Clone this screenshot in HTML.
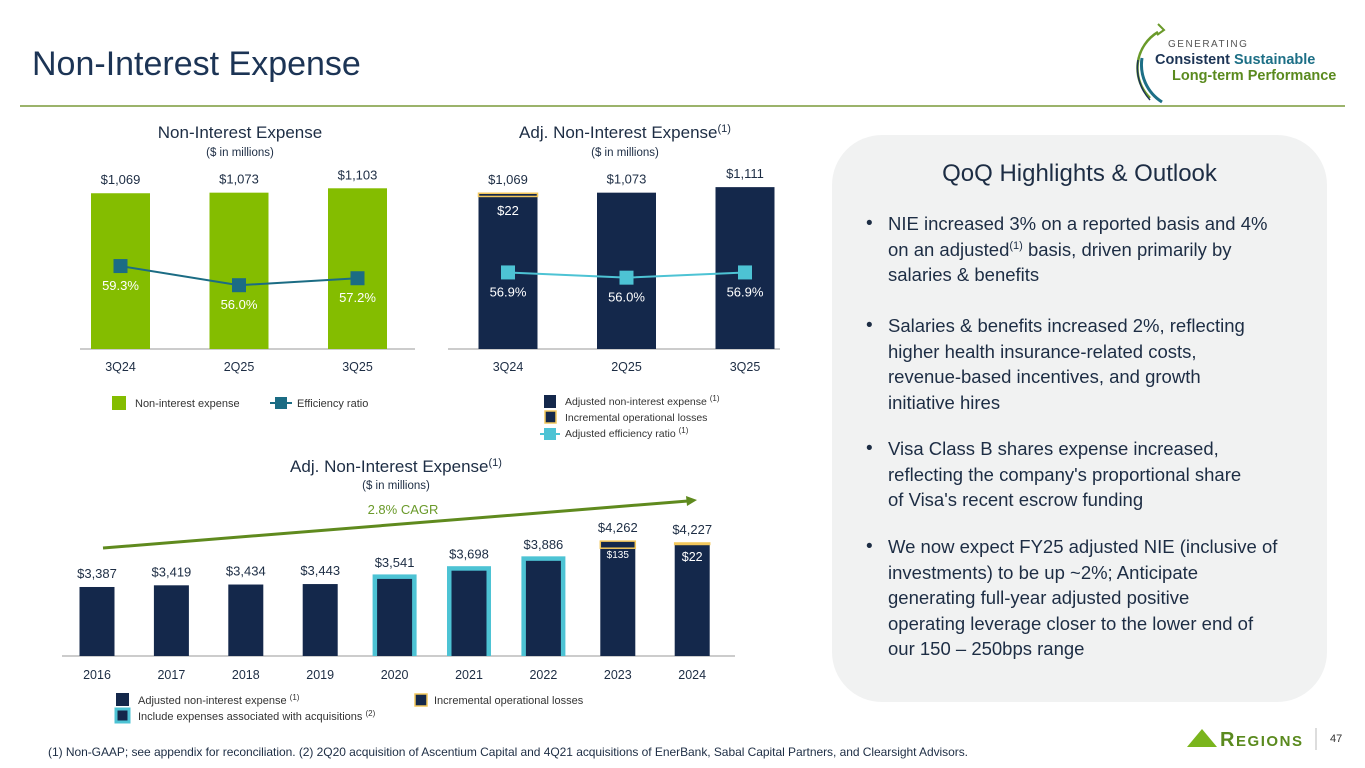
<!DOCTYPE html>
<html><head><meta charset="utf-8"><style>
html,body{margin:0;padding:0;background:#fff;}
body{width:1365px;height:768px;overflow:hidden;position:relative;font-family:"Liberation Sans",sans-serif;}
svg text{font-family:"Liberation Sans",sans-serif;}
.panel{position:absolute;left:832px;top:135px;width:495px;height:567px;background:#f1f2f2;border-radius:50px;}
.ph{position:absolute;left:0;width:495px;top:25px;text-align:center;font-size:24px;color:#1d2d44;}
.bl{position:absolute;left:34px;font-size:18.5px;line-height:25.5px;color:#1d2d44;white-space:nowrap;}
.bl .dot{position:absolute;left:0;top:0;font-size:19px;}
.bl .tx{position:absolute;left:22px;top:0;}
sup{font-size:11px;line-height:0;}
</style></head><body>
<div class="panel">
<div class="ph">QoQ Highlights &amp; Outlook</div>
<div class="bl" style="top:76px"><span class="dot">•</span><div class="tx">NIE increased 3% on a reported basis and 4%<br>on an adjusted<sup>(1)</sup> basis, driven primarily by<br>salaries &amp; benefits</div></div>
<div class="bl" style="top:178px"><span class="dot">•</span><div class="tx">Salaries &amp; benefits increased 2%, reflecting<br>higher health insurance-related costs,<br>revenue-based incentives, and growth<br>initiative hires</div></div>
<div class="bl" style="top:301px"><span class="dot">•</span><div class="tx">Visa Class B shares expense increased,<br>reflecting the company's proportional share<br>of Visa's recent escrow funding</div></div>
<div class="bl" style="top:399px"><span class="dot">•</span><div class="tx">We now expect FY25 adjusted NIE (inclusive of<br>investments) to be up ~2%; Anticipate<br>generating full-year adjusted positive<br>operating leverage closer to the lower end of<br>our 150 – 250bps range</div></div>
</div>

<svg id="s" width="1365" height="768" style="position:absolute;left:0;top:0" xmlns="http://www.w3.org/2000/svg">
<text x="32" y="75" font-size="34" fill="#1c3455">Non-Interest Expense</text>
<line x1="20" y1="106" x2="1345" y2="106" stroke="#7a9a3a" stroke-width="1.5"/>
<g>
<path d="M1158,32 A42,42 0 0 0 1150,98" fill="none" stroke="#6a9a2a" stroke-width="2.5"/>
<path d="M1158,24 L1164,30 L1157,35" fill="none" stroke="#6a9a2a" stroke-width="2"/>
<path d="M1142,58 A44,44 0 0 0 1162,102" fill="none" stroke="#1d6f86" stroke-width="3"/>
<path d="M1138,60 A48,48 0 0 0 1150,100" fill="none" stroke="#1c3455" stroke-width="1.5"/>
<text x="1168" y="47" font-size="10" letter-spacing="1.5" fill="#555">GENERATING</text>
<text x="1155" y="64" font-size="14.5" font-weight="bold" fill="#1c3455">Consistent <tspan fill="#1d6f86">Sustainable</tspan></text>
<text x="1172" y="80" font-size="14.5" font-weight="bold" fill="#5a8a1e">Long-term Performance</text>
</g>

<text x="240" y="138" font-size="17" fill="#1d2d44" text-anchor="middle">Non-Interest Expense</text>
<text x="240" y="156" font-size="11.5" fill="#1d2d44" text-anchor="middle">($ in millions)</text>
<text x="625" y="138" font-size="17" fill="#1d2d44" text-anchor="middle">Adj. Non-Interest Expense<tspan font-size="11" dy="-6">(1)</tspan></text>
<text x="625" y="156" font-size="11.5" fill="#1d2d44" text-anchor="middle">($ in millions)</text>
<text x="396" y="472" font-size="17" fill="#1d2d44" text-anchor="middle">Adj. Non-Interest Expense<tspan font-size="11" dy="-6">(1)</tspan></text>
<text x="396" y="489" font-size="11.5" fill="#1d2d44" text-anchor="middle">($ in millions)</text>

<g id="c1"></g>
<g id="c2"></g>
<g id="c3"></g>

<g>
<rect x="112" y="396" width="14" height="14" fill="#84bd00"/>
<text x="135" y="407" font-size="11" fill="#333">Non-interest expense</text>
<line x1="270" y1="403" x2="292" y2="403" stroke="#1b6c84" stroke-width="2"/>
<rect x="275" y="397" width="12" height="12" fill="#1b6c84"/>
<text x="297" y="407" font-size="11" fill="#333">Efficiency ratio</text>
</g>
<g>
<rect x="544" y="395" width="12" height="13" fill="#14284b"/>
<text x="565" y="405" font-size="10.5" fill="#333">Adjusted non-interest expense <tspan font-size="8" dy="-4">(1)</tspan></text>
<rect x="545" y="411" width="11" height="12" fill="#14284b" stroke="#f2c75c" stroke-width="1.5"/>
<text x="565" y="421" font-size="10.5" fill="#333">Incremental operational losses</text>
<line x1="540" y1="434" x2="560" y2="434" stroke="#4dc3d4" stroke-width="2"/>
<rect x="544" y="428" width="12" height="12" fill="#4dc3d4"/>
<text x="565" y="437" font-size="10.5" fill="#333">Adjusted efficiency ratio <tspan font-size="8" dy="-4">(1)</tspan></text>
</g>
<g>
<rect x="116" y="693" width="13" height="13" fill="#14284b"/>
<text x="138" y="704" font-size="11" fill="#333">Adjusted non-interest expense <tspan font-size="8" dy="-4">(1)</tspan></text>
<rect x="116" y="709" width="13" height="13" fill="#14284b" stroke="#4dc3d4" stroke-width="3"/>
<text x="138" y="720" font-size="11" fill="#333">Include expenses associated with acquisitions <tspan font-size="8" dy="-4">(2)</tspan></text>
<rect x="415" y="694" width="12" height="12" fill="#14284b" stroke="#f2c75c" stroke-width="1.5"/>
<text x="434" y="704" font-size="11" fill="#333">Incremental operational losses</text>
</g>

<text x="48" y="756" font-size="12" fill="#1d2d44" textLength="920">(1) Non-GAAP; see appendix for reconciliation. (2) 2Q20 acquisition of Ascentium Capital and 4Q21 acquisitions of EnerBank, Sabal Capital Partners, and Clearsight Advisors.</text>
<g>
<polygon points="1187,747 1202,729 1217,747" fill="#7ab51d"/>
<text x="1220" y="746" font-size="20" font-family="Liberation Serif" font-weight="bold" fill="#5a8a1e" textLength="82">R<tspan font-size="15">EGIONS</tspan></text>
<line x1="1316" y1="728" x2="1316" y2="750" stroke="#bbb" stroke-width="1"/>
<text x="1330" y="742" font-size="11" fill="#333">47</text>
</g>
</svg>
<script>
// Chart 1 data
const c1Cats = ["3Q24","2Q25","3Q25"];
const c1Nie = [1069,1073,1103];
const c1Eff = [59.3,56.0,57.2];
const c1NieLabels = ["$1,069","$1,073","$1,103"];
const c1EffLabels = ["59.3%","56.0%","57.2%"];
// Chart 2 data
const c2Cats = ["3Q24","2Q25","3Q25"];
const c2Adj = [1047,1073,1111];
const c2Inc = [22,0,0];
const c2Eff = [56.9,56.0,56.9];
const c2TotLabels = ["$1,069","$1,073","$1,111"];
const c2IncLabels = ["$22","",""];
const c2EffLabels = ["56.9%","56.0%","56.9%"];
// Chart 3 data
const c3Cats = ["2016","2017","2018","2019","2020","2021","2022","2023","2024"];
const c3Adj = [3387,3419,3434,3443,3541,3698,3886,4127,4205];
const c3Inc = [0,0,0,0,0,0,0,135,22];
const c3Acq = [false,false,false,false,true,true,true,false,false];
const c3TotLabels = ["$3,387","$3,419","$3,434","$3,443","$3,541","$3,698","$3,886","$4,262","$4,227"];
const c3IncLabels = ["","","","","","","","$135","$22"];

const NS="http://www.w3.org/2000/svg";
function mk(p,tag,a,txt){const e=document.createElementNS(NS,tag);for(const k in a)e.setAttribute(k,a[k]);if(txt!==undefined)e.textContent=txt;p.appendChild(e);return e;}

function quarterChart(g,cats,base,inc,eff,totL,incL,effL,x0,barCol,lineCol,effBase,axisX1,axisX2){
  const B=349, k=0.1457, step=118.5, bw=59;
  const xc=i=>x0+i*step;
  const yv=v=>B-v*k;
  const ye=v=>B-(v-effBase)*5.8;
  const ax=mk(g,'line',{x1:axisX1,y1:B,x2:axisX2,y2:B,stroke:'#bbb','stroke-width':1.5});
  
  
  cats.forEach((c,i)=>{
    const b=mk(g,'rect',{x:xc(i)-bw/2,y:yv(base[i]),width:bw,height:base[i]*k,fill:barCol});
    
    
    if(inc[i]>0){
      const s=mk(g,'rect',{x:xc(i)-bw/2,y:yv(base[i]+inc[i]),width:bw,height:inc[i]*k,fill:'#14284b',stroke:'#f2c75c','stroke-width':1.5});
      
      
      const il=mk(g,'text',{x:xc(i),y:yv(base[i]+inc[i])+22,'font-size':13,fill:'#fff','text-anchor':'middle'},incL[i]);
      
      
    }
    const t=mk(g,'text',{x:xc(i),y:yv(base[i]+inc[i])-9,'font-size':13,fill:'#1d2d44','text-anchor':'middle'},totL[i]);
    
    
    const cl=mk(g,'text',{x:xc(i),y:371,'font-size':12.5,fill:'#1d2d44','text-anchor':'middle'},c);
    
    
  });
  const pts=eff.map((v,i)=>xc(i)+','+ye(v)).join(' ');
  const pl=mk(g,'polyline',{points:pts,fill:'none',stroke:lineCol,'stroke-width':2});
  
  
  eff.forEach((v,i)=>{
    const m=mk(g,'rect',{x:xc(i)-7,y:ye(v)-7,width:14,height:14,fill:lineCol});
    
    
    const l=mk(g,'text',{x:xc(i),y:ye(v)+24,'font-size':13,fill:'#fff','text-anchor':'middle'},effL[i]);
    
    
  });
}
quarterChart(document.getElementById('c1'),c1Cats,c1Nie,[0,0,0],c1Eff,c1NieLabels,["","",""],c1EffLabels,120.5,'#84bd00','#1b6c84',45,80,415);
quarterChart(document.getElementById('c2'),c2Cats,c2Adj,c2Inc,c2Eff,c2TotLabels,c2IncLabels,c2EffLabels,508,'#14284b','#4dc3d4',43.7,448,780);

(function(){
  const g=document.getElementById('c3');
  const B=656,k=0.0524,z=2070,step=74.4,x0=97,bw=35;
  const xc=i=>x0+i*step;
  const yv=v=>B-(v-z)*k;
  const ax=mk(g,'line',{x1:62,y1:B,x2:735,y2:B,stroke:'#bbb','stroke-width':1.5});
  
  
  c3Cats.forEach((c,i)=>{
    const top=c3Adj[i]+c3Inc[i];
    if(c3Acq[i]){
      const o=mk(g,'rect',{x:xc(i)-bw/2-4.5,y:yv(c3Adj[i])-4.5,width:bw+9,height:B-yv(c3Adj[i])+4.5,fill:'#4dc3d4'});
      
      
    }
    const b=mk(g,'rect',{x:xc(i)-bw/2,y:yv(c3Adj[i]),width:bw,height:B-yv(c3Adj[i]),fill:'#14284b'});
    
    
    if(c3Inc[i]>0){
      const s=mk(g,'rect',{x:xc(i)-bw/2,y:yv(top),width:bw,height:Math.max(c3Inc[i]*k,1.5),fill:'#14284b',stroke:'#f2c75c','stroke-width':1.5});
      
      
      const il=mk(g,'text',{x:xc(i),y:yv(c3Adj[i])+(c3Inc[i]>50?10:17),'font-size':c3Inc[i]>50?10:12.5,fill:'#fff','text-anchor':'middle'},c3IncLabels[i]);
      
      
    }
    const t=mk(g,'text',{x:xc(i),y:yv(top)-(c3Acq[i]?12:9),'font-size':13,fill:'#1d2d44','text-anchor':'middle'},c3TotLabels[i]);
    
    
    const cl=mk(g,'text',{x:xc(i),y:679,'font-size':12.5,fill:'#1d2d44','text-anchor':'middle'},c);
    
    
  });
  const ar=mk(g,'line',{x1:103,y1:548,x2:688,y2:501,stroke:'#5f8a1e','stroke-width':3});
  
  
  mk(g,'polygon',{points:'697,500 686,496 687,506',fill:'#5f8a1e'});
  const ct=mk(g,'text',{x:403,y:514,'font-size':13,fill:'#6a9a2a','text-anchor':'middle'},'2.8% CAGR');
  
  
})();
</script>
</body></html>
